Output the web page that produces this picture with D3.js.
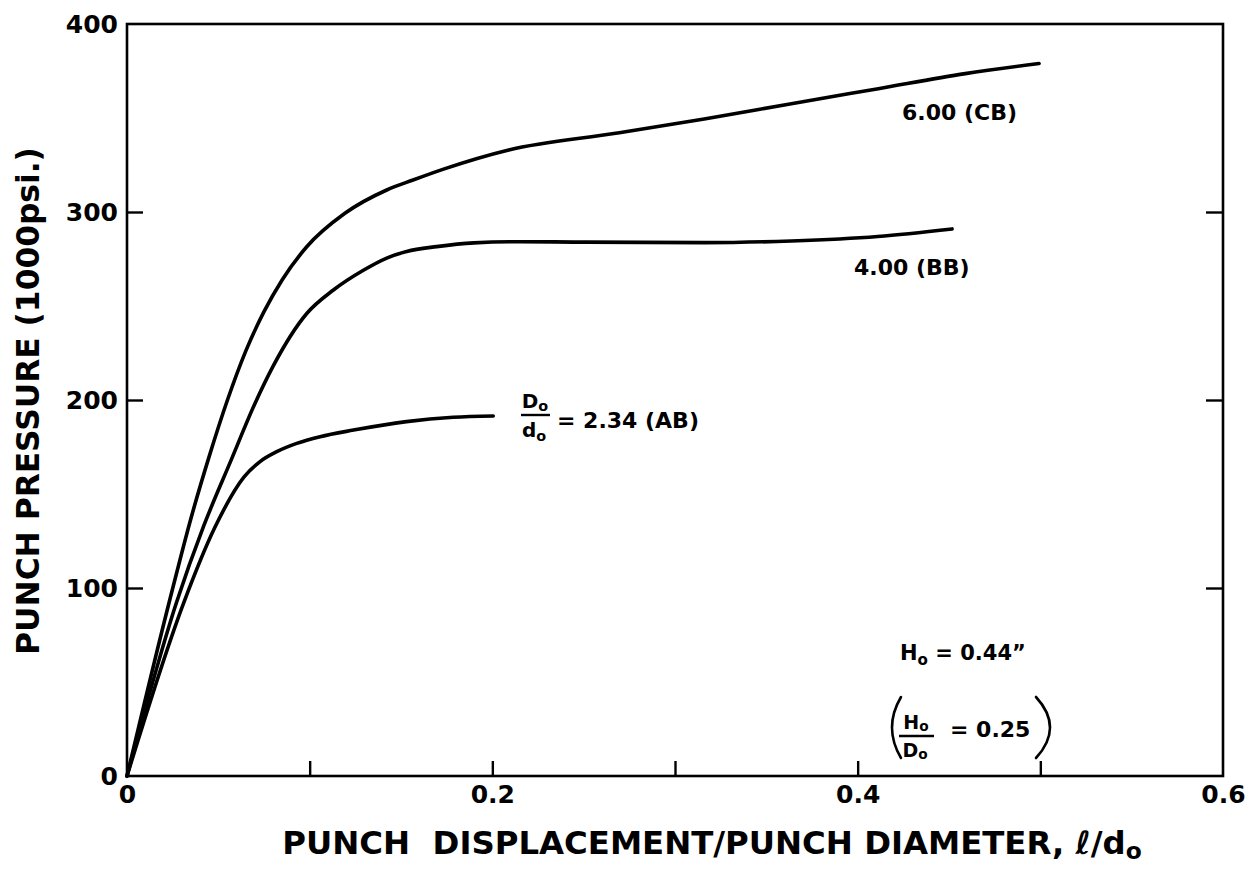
<!DOCTYPE html>
<html><head><meta charset="utf-8">
<script src="https://cdn.jsdelivr.net/npm/d3@7"></script>
<style>
body{margin:0;background:#fff}
svg{display:block;background:#fff}
text{fill:#000;font-family:"DejaVu Sans",sans-serif;font-weight:bold;white-space:pre}
</style>
</head><body>
<svg id="chart" width="1248" height="869"></svg>
<script>
// ---- data ----
const xLabelTicks = [0, 0.2, 0.4, 0.6];
const xInnerTicks = [0.1, 0.2, 0.3, 0.4, 0.5];
const yLabelTicks = [0, 100, 200, 300, 400];
const yInnerTicks = [100, 200, 300];

const cbX = [0, 0.0235, 0.035, 0.045, 0.055, 0.065, 0.075, 0.085, 0.0984, 0.1193, 0.1422, 0.1566, 0.1733, 0.209, 0.2685, 0.316, 0.3637, 0.4113, 0.4589, 0.4993];
const cbP = [0, 94, 137, 170, 200, 226, 247, 264, 281.5, 299.3, 311.7, 317, 322.8, 333, 342, 349.5, 357.6, 365.6, 373.6, 379];

const bbX = [0, 0.027, 0.042, 0.057, 0.07, 0.08, 0.0984, 0.113, 0.1294, 0.1422, 0.1531, 0.1695, 0.19, 0.215, 0.2447, 0.316, 0.3637, 0.411, 0.4517];
const bbP = [0, 92, 133, 168, 198, 218, 246, 258.5, 269, 275.5, 279, 281.6, 283.6, 284.2, 284, 283.7, 284.6, 287, 291];

const abX = [0, 0.031, 0.048, 0.064, 0.0725, 0.082, 0.0929, 0.1057, 0.124, 0.153, 0.1786, 0.2005];
const abP = [0, 92, 132, 159, 167, 172.5, 176.9, 180.5, 184, 188.5, 190.8, 191.5];

const seriesNames = ["6.00 (CB)", "4.00 (BB)", "2.34 (AB)"];

// ---- layout ----
const svg = d3.select("#chart");
const W = 1248, H = 869;
const m = {left: 127, top: 24, right: 25, bottom: 93};
const iw = W - m.left - m.right, ih = H - m.top - m.bottom;
const x = d3.scaleLinear().domain([0, 0.6]).range([m.left, m.left + iw]);
const y = d3.scaleLinear().domain([0, 400]).range([m.top + ih, m.top]);

// frame
svg.append("rect").attr("x", m.left).attr("y", m.top).attr("width", iw).attr("height", ih)
  .attr("fill", "none").attr("stroke", "#000").attr("stroke-width", 2.6);

// inner ticks
const tickStyle = g => { g.select(".domain").remove(); g.selectAll("line").attr("stroke", "#000").attr("stroke-width", 2.4); g.selectAll("text").remove(); };
svg.append("g").attr("transform", `translate(0,${m.top + ih})`)
  .call(d3.axisBottom(x).tickValues(xInnerTicks).tickSize(-15)).call(tickStyle);
svg.append("g").attr("transform", `translate(${m.left},0)`)
  .call(d3.axisLeft(y).tickValues(yInnerTicks).tickSize(-16)).call(tickStyle);
svg.append("g").attr("transform", `translate(${m.left + iw},0)`)
  .call(d3.axisRight(y).tickValues(yInnerTicks).tickSize(-17)).call(tickStyle);

// tick labels
const labStyle = g => { g.select(".domain").remove(); g.selectAll("line").remove();
  g.selectAll("text").attr("fill", "#000").attr("font-size", 25).attr("font-family", "DejaVu Sans").attr("font-weight", "bold"); };
svg.append("g").attr("transform", `translate(0,${m.top + ih})`)
  .call(d3.axisBottom(x).tickValues(xLabelTicks).tickSize(0).tickPadding(9)
    .tickFormat(d => d === 0 ? "0" : d3.format(".1f")(d))).call(labStyle);
svg.append("g").attr("transform", `translate(${m.left},0)`)
  .call(d3.axisLeft(y).tickValues(yLabelTicks).tickSize(0).tickPadding(9)).call(labStyle);

// curves
const line = d3.line().x(d => x(d[0])).y(d => y(d[1])).curve(d3.curveMonotoneX);
[[cbX, cbP], [bbX, bbP], [abX, abP]].forEach(([xs, ps], i) => {
  svg.append("path").datum(xs.map((v, j) => [v, ps[j]]))
    .attr("class", "series").attr("data-name", seriesNames[i])
    .attr("d", line).attr("fill", "none").attr("stroke", "#000")
    .attr("stroke-width", 3.6).attr("stroke-linecap", "round").attr("stroke-linejoin", "round");
});

// rich text helper (subscripts)
function rich(px, py, parts, size, anchor, family, subShift) {
  const sh = subShift == null ? 0.22 : subShift;
  const t = svg.append("text").attr("x", px).attr("y", py).attr("font-size", size)
    .attr("text-anchor", anchor || "start");
  if (family) t.attr("font-family", family);
  let shifted = false;
  parts.forEach(p => {
    const s = t.append("tspan").text(p.t);
    if (p.sub) { s.attr("font-size", size * 0.72).attr("dy", size * sh); shifted = true; }
    else if (shifted) { s.attr("dy", -size * sh); shifted = false; }
  });
  return t;
}
function fitWidth(t, cx, target) {
  const w = t.node().getBBox().width;
  const s = target / w;
  t.attr("transform", `translate(${cx},0) scale(${s},1) translate(${-cx},0)`);
}

// curve labels
rich(902, 120, [{t: "6.00 (CB)"}], 22);
rich(854, 275, [{t: "4.00 (BB)"}], 22);

// AB fraction label
rich(535, 408, [{t: "D"}, {t: "o", sub: true}], 20, "middle", null, 0.15);
svg.append("line").attr("x1", 521).attr("x2", 550).attr("y1", 415).attr("y2", 415).attr("stroke", "#000").attr("stroke-width", 2.4);
rich(534, 437, [{t: "d"}, {t: "o", sub: true}], 20, "middle", null, 0.2);
rich(557, 428, [{t: "= 2.34 (AB)"}], 22);

// H0 annotation
rich(900, 660, [{t: "H"}, {t: "o", sub: true}, {t: " = 0.44\u201D"}], 21);
const paren = svg.append("g").attr("fill", "none").attr("stroke", "#000").attr("stroke-width", 2.6).attr("stroke-linecap", "round");
paren.append("path").attr("d", "M901,697 Q883,727.5 901,758");
paren.append("path").attr("d", "M1036,697 Q1064,727.5 1036,758");
rich(916, 729, [{t: "H"}, {t: "o", sub: true}], 19, "middle", null, 0.12);
svg.append("line").attr("x1", 899).attr("x2", 934).attr("y1", 736).attr("y2", 736).attr("stroke", "#000").attr("stroke-width", 2.4);
rich(915, 757, [{t: "D"}, {t: "o", sub: true}], 19, "middle", null, 0.12);
rich(950, 737, [{t: "= 0.25"}], 22);

// axis titles
const xt = rich(712, 854, [{t: "PUNCH  DISPLACEMENT/PUNCH DIAMETER, \u2113/d"}, {t: "o", sub: true}], 32, "middle", "Liberation Sans", 0.15);
fitWidth(xt, 712, 860);

const yt = svg.append("g").attr("transform", "translate(39,401) rotate(-90)");
const ytt = yt.append("text").attr("x", 0).attr("y", 0).attr("font-size", 32)
  .attr("text-anchor", "middle").attr("font-family", "Liberation Sans").text("PUNCH PRESSURE (1000psi.)");
const yw = ytt.node().getBBox().width;
ytt.attr("transform", `scale(${508 / yw},1)`);
</script>
</body></html>
